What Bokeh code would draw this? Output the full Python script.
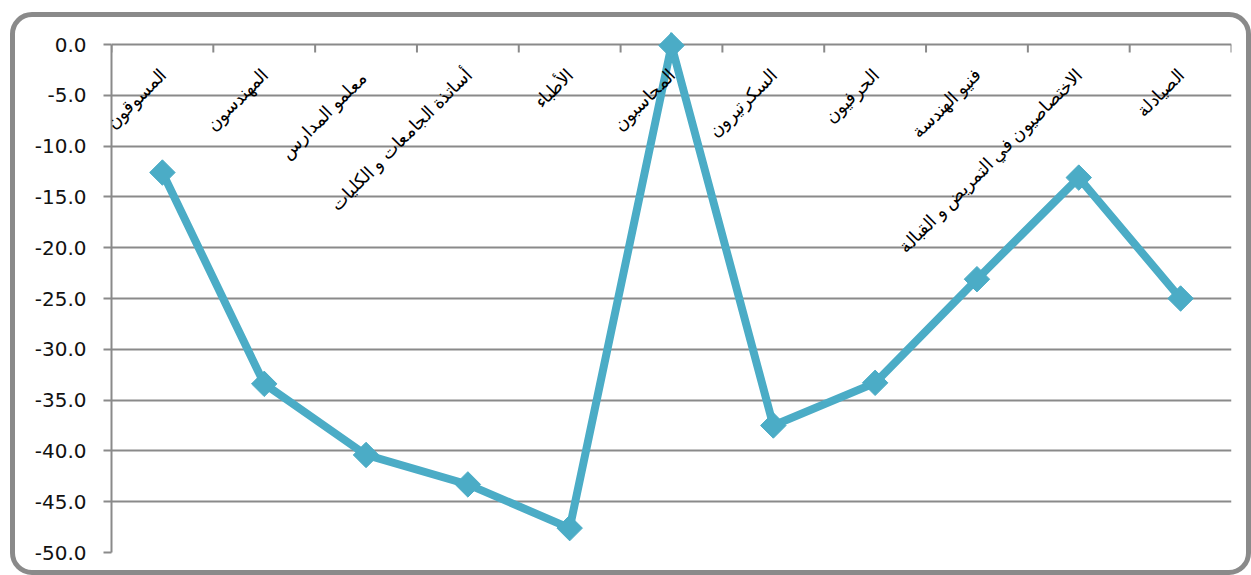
from bokeh.plotting import figure
from bokeh.models import Range1d, FixedTicker, ColumnDataSource, NumeralTickFormatter, LabelSet
from bokeh.embed import file_html
from bokeh.resources import INLINE

categories = ["المسوقون", "المهندسون", "معلمو  المدارس", "أساتذة الجامعات و الكليات", "الأطباء",
              "المحاسبون", "السكرتيرون", "الحرفيون", "فنيو الهندسة",
              "الاختصاصيون في التمريض و القبالة", "الصيادلة"]
values = [-12.6, -33.4, -40.4, -43.3, -47.6, -0.1, -37.5, -33.3, -23.1, -13.1, -25.0]
y_ticks = [-50, -45, -40, -35, -30, -25, -20, -15, -10, -5, 0]

n = len(categories)
xs = [i + 0.5 for i in range(n)]
COLOR = "#4BACC6"
GRID = "#8a8a8a"

FRAME_H = 520
PX_PER_50 = 508
y_end = -50 + FRAME_H / PX_PER_50 * 50

p = figure(width=1231, height=553, output_backend="svg", toolbar_location=None,
           x_range=Range1d(0, n), y_range=Range1d(-50, y_end),
           frame_width=1120, frame_height=FRAME_H,
           min_border_left=96, min_border_right=15, min_border_top=15, min_border_bottom=18)
p.styles = {"margin-left": "10px", "margin-top": "12px",
            "border": "5px solid #8a8a8a", "border-radius": "22px"}
p.outline_line_color = None
p.xaxis.visible = False
p.xgrid.visible = False
p.background_fill_color = "white"
p.border_fill_color = None

ax = p.yaxis[0]
ax.ticker = FixedTicker(ticks=y_ticks)
ax.formatter = NumeralTickFormatter(format="0.0")
ax.bounds = (-50, 0)
ax.axis_line_color = GRID
ax.axis_line_width = 2
ax.major_tick_line_color = GRID
ax.major_tick_line_width = 2
ax.major_tick_out = 8
ax.major_tick_in = 0
ax.minor_tick_line_color = None
ax.major_label_standoff = 17
ax.major_label_text_font = "DejaVu Sans"
ax.major_label_text_font_size = "20px"
ax.major_label_text_color = "#111111"

p.ygrid.ticker = FixedTicker(ticks=y_ticks)
p.ygrid.grid_line_color = GRID
p.ygrid.grid_line_width = 2

# category boundary ticks along the zero line
bx = list(range(n + 1))
p.segment(x0=bx, x1=bx, y0=[0] * (n + 1), y1=[-8 / PX_PER_50 * 50] * (n + 1),
          line_color=GRID, line_width=2)

src = ColumnDataSource(dict(x=xs, y=values, label=categories,
                            lx=[x - 0.06 for x in xs], ly=[-2.0] * n))
p.line("x", "y", source=src, line_color=COLOR, line_width=8, line_join="miter")
p.scatter("x", "y", source=src, marker="square", size=18, angle=0.785398,
          fill_color=COLOR, line_color=COLOR)

labels = LabelSet(x="lx", y="ly", text="label", source=src,
                  angle=0.785398, text_align="right", text_baseline="top",
                  text_font="DejaVu Sans", text_font_size="18px", text_color="black")
p.add_layout(labels)

open("out.html", "w").write(file_html(p, INLINE))
